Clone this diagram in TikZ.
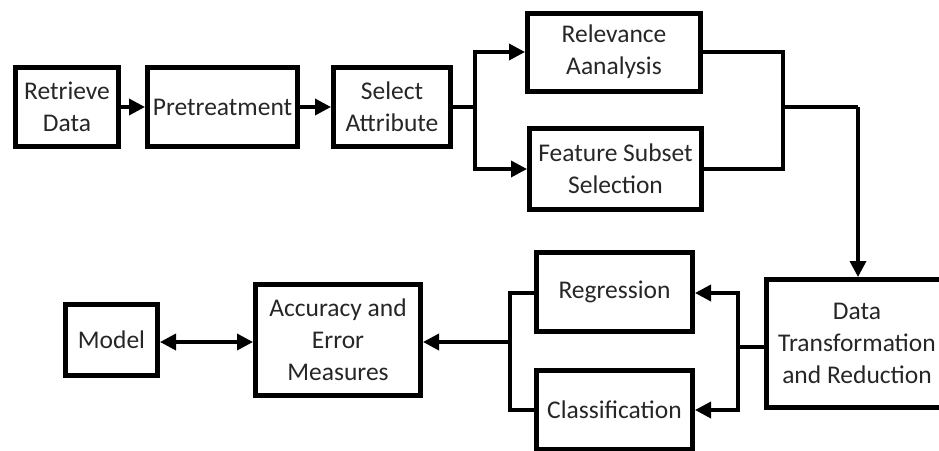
\documentclass[tikz,border=0pt]{standalone}
\usepackage{fontspec}
\setmainfont{Carlito}
\usetikzlibrary{arrows.meta}
\begin{document}
\begin{tikzpicture}[x=1pt,y=-1pt,
  box/.style={draw, line width=5pt, align=center, inner sep=0pt, text=black!85,
    font=\fontsize{25.5}{32}\selectfont},
  conn/.style={line width=3.5pt},
  arr/.style={conn, -{Triangle[length=16pt,width=16pt]}},
  darr/.style={conn, {Triangle[length=16pt,width=16pt]}-{Triangle[length=16pt,width=16pt]}},
]
\useasboundingbox (0,0) rectangle (939,450);
% top row
\node[box, minimum width=103pt, minimum height=79pt] (rd)  at (67,107)    {Retrieve\\Data};
\node[box, minimum width=150pt, minimum height=79pt] (pre) at (222.5,107) {Pretreatment};
\node[box, minimum width=117pt, minimum height=79pt] (sel) at (392,107)   {Select\\Attribute};
\node[box, minimum width=173pt, minimum height=78pt] (rel) at (614,52)    {Relevance\\Aanalysis};
\node[box, minimum width=172pt, minimum height=81pt] (fss) at (615.5,169) {Feature Subset\\Selection};
% right / bottom
\node[box, minimum width=181pt, minimum height=128pt] (dtr) at (857,343.5) {Data\\Transformation\\and Reduction};
\node[box, minimum width=156pt, minimum height=79pt] (reg) at (614.5,292) {Regression};
\node[box, minimum width=156pt, minimum height=79pt] (cls) at (614.5,410) {Classification};
\node[box, minimum width=165pt, minimum height=111pt] (acc) at (338,340)  {Accuracy and\\Error\\Measures};
\node[box, minimum width=92pt, minimum height=71pt] (mod) at (111.5,340) {Model};

% coordinates
\coordinate (s1) at (475,107);
\coordinate (s2) at (783,107);
\coordinate (s3) at (858,107);
\coordinate (d1) at (738,347);
\coordinate (c1) at (510,342);

% connectors
\draw[arr] (rd.east) -- (pre.west);
\draw[arr] (pre.east) -- (sel.west);
\draw[conn] (sel.east) -- (s1);
\draw[arr] (s1) |- (rel.west);
\draw[arr] (s1) |- (fss.west);
\draw[conn] (rel.east) -| (s2);
\draw[conn] (fss.east) -| (s2);
\draw[conn] (s2) -- (s3);
\draw[arr] (s3) -- (s3 |- dtr.north);
\draw[conn] (dtr.west |- d1) -- (d1);
\draw[arr] (d1) |- (reg.east |- 0,293);
\draw[arr] (d1) |- (cls.east);
\draw[conn] (reg.west |- 0,293) -| (c1);
\draw[conn] (cls.west) -| (c1);
\draw[arr] (c1) -- (acc.east |- c1);
\draw[darr] (mod.east |- 0,342) -- (acc.west |- 0,342);
\end{tikzpicture}
\end{document}
